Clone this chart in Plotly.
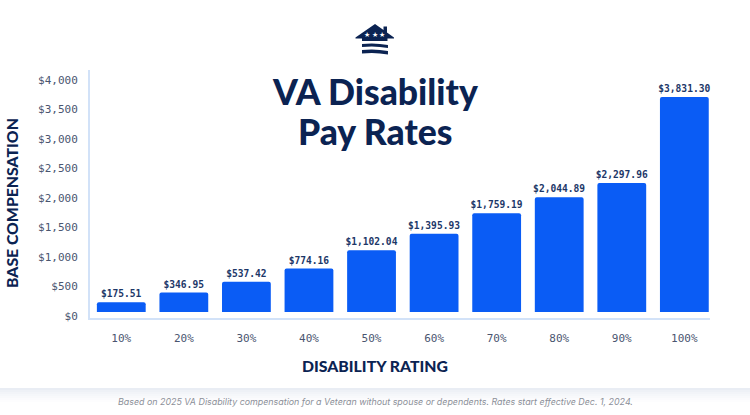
import plotly.graph_objects as go

ratings = ['10%', '20%', '30%', '40%', '50%', '60%', '70%', '80%', '90%', '100%']
pay = [175.51, 346.95, 537.42, 774.16, 1102.04, 1395.93, 1759.19, 2044.89, 2297.96, 3831.30]
pay_labels = ['$175.51', '$346.95', '$537.42', '$774.16', '$1,102.04', '$1,395.93', '$1,759.19', '$2,044.89', '$2,297.96', '$3,831.30']
tick_vals = [0, 500, 1000, 1500, 2000, 2500, 3000, 3500, 4000]
tick_text = ['$0', '$500', '$1,000', '$1,500', '$2,000', '$2,500', '$3,000', '$3,500', '$4,000']

NAVY = '#0b2352'
BLUE = '#0a5cf5'
LINE = '#d2e2f8'
MONO = 'DejaVu Sans Mono'

# plot area in page pixels
L, R, T, B = 90, 710, 70, 318


def px(x, y):
    return (x - L) / (R - L), (B - y) / (B - T)


def path(points):
    return 'M' + ' L'.join('%.4f,%.4f' % px(*p) for p in points) + ' Z'


def wave(x0, x1, y0, h, dip):
    # one band of the logo, a curved stripe
    a = px(x0, y0)
    c1 = px((x0 + x1) / 2, y0 - dip)
    b = px(x1, y0 + 1)
    d = px(x1, y0 + 1 + h)
    c2 = px((x0 + x1) / 2, y0 + h - dip)
    e = px(x0, y0 + h)
    return 'M%.4f,%.4f Q%.4f,%.4f %.4f,%.4f L%.4f,%.4f Q%.4f,%.4f %.4f,%.4f Z' % (*a, *c1, *b, *d, *c2, *e)


fig = go.Figure()

# the printed axis ticks do not share a scale with the bars in the source graphic
fig.add_trace(go.Scatter(x=[ratings[0]] * len(tick_vals), y=tick_vals, mode='markers',
                         marker=dict(opacity=0), hoverinfo='skip', showlegend=False))
fig.add_trace(go.Bar(x=ratings, y=pay, yaxis='y2', text=pay_labels, textposition='outside',
                     textangle=0, constraintext='none',
                     textfont=dict(family=MONO, size=9.6, color='#1c3768', weight='bold'),
                     cliponaxis=False, marker=dict(color=BLUE, line=dict(width=0), cornerradius=2),
                     width=0.78, showlegend=False))

shapes = []
# soft shadow above the footer
for i, col in enumerate(['#e9edf4', '#eef1f6', '#f2f4f8', '#f5f7fa', '#f8f9fb', '#fbfbfd', '#fdfdfe']):
    x0, y0 = px(0, 388 + i * 2)
    x1, y1 = px(750, 390 + i * 2)
    shapes.append(dict(type='rect', xref='paper', yref='paper', x0=x0, x1=x1, y0=y0, y1=y1,
                       fillcolor=col, line_width=0, layer='below'))

# logo
house = [(355.5, 37.5), (375, 24), (383.5, 30), (383.5, 26.5), (387, 26.5), (387, 32.5), (394, 37.5),
         (394, 38.5), (387.5, 38.5), (387.5, 41), (362, 41), (362, 38.5), (355.5, 38.5)]
shapes.append(dict(type='path', xref='paper', yref='paper', path=path(house), fillcolor=NAVY, line_width=0))
shapes.append(dict(type='path', xref='paper', yref='paper', path=wave(362, 388, 44, 3, 1.5), fillcolor=NAVY, line_width=0))
shapes.append(dict(type='path', xref='paper', yref='paper', path=wave(362, 388, 50, 3.6, 1.5), fillcolor=NAVY, line_width=0))

annotations = []


def note(x, y, text, **kw):
    ax, ay = px(x, y)
    annotations.append(dict(x=ax, y=ay, xref='paper', yref='paper', text=text, showarrow=False,
                            xanchor='center', yanchor='middle', **kw))


note(375, 91, 'VA Disability', font=dict(family='Lato', size=35.5, color=NAVY, weight=900))
note(375, 131, 'Pay Rates', font=dict(family='Lato', size=35.5, color=NAVY, weight=900))
note(375, 365, 'DISABILITY RATING', font=dict(family='Lato', size=15.8, color=NAVY, weight=900))
note(11, 203, 'BASE COMPENSATION', textangle=-90, font=dict(family='Lato', size=15.8, color=NAVY, weight=900))
note(375, 401, 'Based on 2025 VA Disability compensation for a Veteran without spouse or dependents. Rates start effective Dec. 1, 2024.',
     font=dict(family='Inter', size=8.9, color='#8b8f98', style='italic'))
for sx in [367, 375, 382]:
    note(sx, 34.5, '★', font=dict(family='DejaVu Sans', size=7, color='white'))

fig.update_layout(
    width=750, height=415,
    margin=dict(l=L, r=750 - R, t=T, b=415 - B),
    paper_bgcolor='white', plot_bgcolor='white',
    shapes=shapes, annotations=annotations,
    xaxis=dict(type='category', range=[-0.5, 9.41], showgrid=False, showline=True, linecolor=LINE, linewidth=2,
               ticks='outside', ticklen=9, tickcolor='rgba(0,0,0,0)', zeroline=False,
               tickfont=dict(family=MONO, size=11, color='#4a5570')),
    yaxis=dict(range=[-34, 4169], tickvals=tick_vals, ticktext=tick_text, showgrid=False, zeroline=False,
               showline=True, linecolor=LINE, linewidth=2, ticks='outside', ticklen=8, tickcolor='rgba(0,0,0,0)',
               tickfont=dict(family=MONO, size=11, color='#4a5570')),
    yaxis2=dict(range=[-107, 4314], overlaying='y', visible=False),
)

# the page has a default body margin that would push everything 8px off
fig.write_html("out.html", config={'displayModeBar': False}, post_script="document.body.style.margin='0';")
